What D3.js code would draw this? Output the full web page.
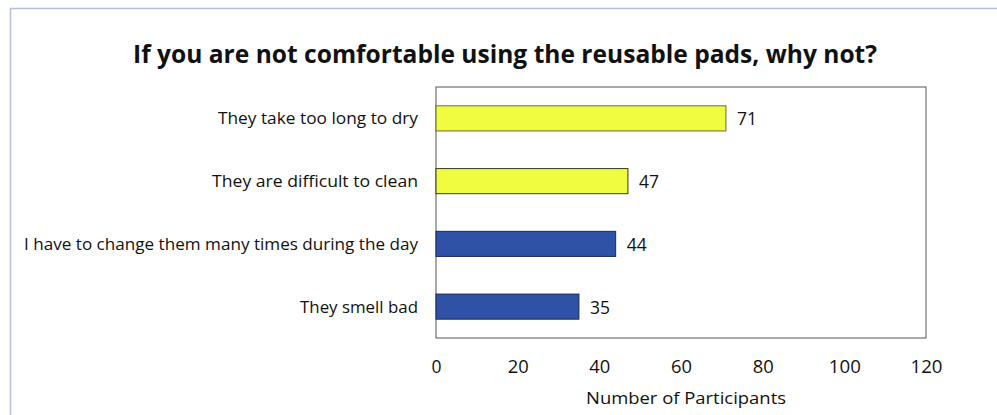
<!DOCTYPE html>
<html>
<head>
<meta charset="utf-8">
<script src="https://cdn.jsdelivr.net/npm/d3@7"></script>
<style>
  html, body { margin: 0; padding: 0; background: #fff; }
  svg { display: block; }
  text { font-family: "Open Sans", "Noto Sans", sans-serif; fill: #111; }
</style>
</head>
<body>
<svg id="chart" width="997" height="415"></svg>
<script>
// ---------- data ----------
const categories = [
  "They take too long to dry",
  "They are difficult to clean",
  "I have to change them many times during the day",
  "They smell bad"
];
const values = [71, 47, 44, 35];
const barColors = ["#f0fc40", "#f0fc40", "#2f52a6", "#2f52a6"];
const barStrokes = ["#6b6b2e", "#3a3a1a", "#1c2a55", "#1c2a55"];
const xTicks = [0, 20, 40, 60, 80, 100, 120];

const title = "If you are not comfortable using the reusable pads, why not?";
const xTitle = "Number of Participants";

// ---------- layout ----------
const W = 997, H = 415;
const plot = { left: 436, right: 926, top: 87, bottom: 338 };

const svg = d3.select("#chart");

// outer chart border (clipped by window on right/bottom)
svg.append("rect")
  .attr("x", 10.5).attr("y", 8.5)
  .attr("width", W).attr("height", H)
  .attr("fill", "none")
  .attr("stroke", "#b7bfdc")
  .attr("stroke-width", 1.5);

svg.append("text")
  .attr("x", 505).attr("y", 63)
  .attr("text-anchor", "middle")
  .attr("font-size", 25)
  .attr("font-weight", "bold")
  .attr("textLength", 744)
  .attr("lengthAdjust", "spacingAndGlyphs")
  .text(title);

const x = d3.scaleLinear().domain([0, 120]).range([plot.left, plot.right]);
const y = d3.scaleBand().domain(categories).range([plot.top, plot.bottom]).paddingInner(0.6).paddingOuter(0.3);

// plot box
svg.append("rect")
  .attr("x", plot.left).attr("y", plot.top)
  .attr("width", plot.right - plot.left)
  .attr("height", plot.bottom - plot.top)
  .attr("fill", "none")
  .attr("stroke", "#555")
  .attr("stroke-width", 1);

// bars
svg.selectAll("rect.bar")
  .data(categories)
  .join("rect")
  .attr("class", "bar")
  .attr("x", x(0))
  .attr("y", d => y(d))
  .attr("width", (d, i) => x(values[i]) - x(0))
  .attr("height", y.bandwidth())
  .attr("fill", (d, i) => barColors[i])
  .attr("stroke", (d, i) => barStrokes[i])
  .attr("stroke-width", 1);

// value labels
svg.selectAll("text.val")
  .data(categories)
  .join("text")
  .attr("class", "val")
  .attr("x", (d, i) => x(values[i]) + 11)
  .attr("y", d => y(d) + y.bandwidth() / 2 + 7)
  .attr("font-size", 18)
  .attr("textLength", 20)
  .attr("lengthAdjust", "spacingAndGlyphs")
  .text((d, i) => values[i]);

// category labels
const catWidths = [200, 206, 394, 118];
svg.selectAll("text.cat")
  .data(categories)
  .join("text")
  .attr("class", "cat")
  .attr("x", 418)
  .attr("y", d => y(d) + y.bandwidth() / 2 + 6)
  .attr("text-anchor", "end")
  .attr("font-size", 16.5)
  .attr("textLength", (d, i) => catWidths[i])
  .attr("lengthAdjust", "spacingAndGlyphs")
  .text(d => d);

// x axis tick labels
const xAxis = d3.axisBottom(x).tickValues(xTicks).tickSize(0).tickPadding(22);
const gx = svg.append("g")
  .attr("transform", `translate(0,${plot.bottom})`)
  .call(xAxis);
gx.select(".domain").remove();
gx.selectAll("text")
  .attr("font-size", 18)
  .attr("fill", "#111")
  .attr("textLength", d => d >= 100 ? 32 : (d === 0 ? 10 : 21))
  .attr("lengthAdjust", "spacingAndGlyphs")
  .style("font-family", '"Open Sans", "Noto Sans", sans-serif');

svg.append("text")
  .attr("x", 686).attr("y", 404)
  .attr("text-anchor", "middle")
  .attr("font-size", 17)
  .attr("textLength", 200)
  .attr("lengthAdjust", "spacingAndGlyphs")
  .text(xTitle);
</script>
</body>
</html>
